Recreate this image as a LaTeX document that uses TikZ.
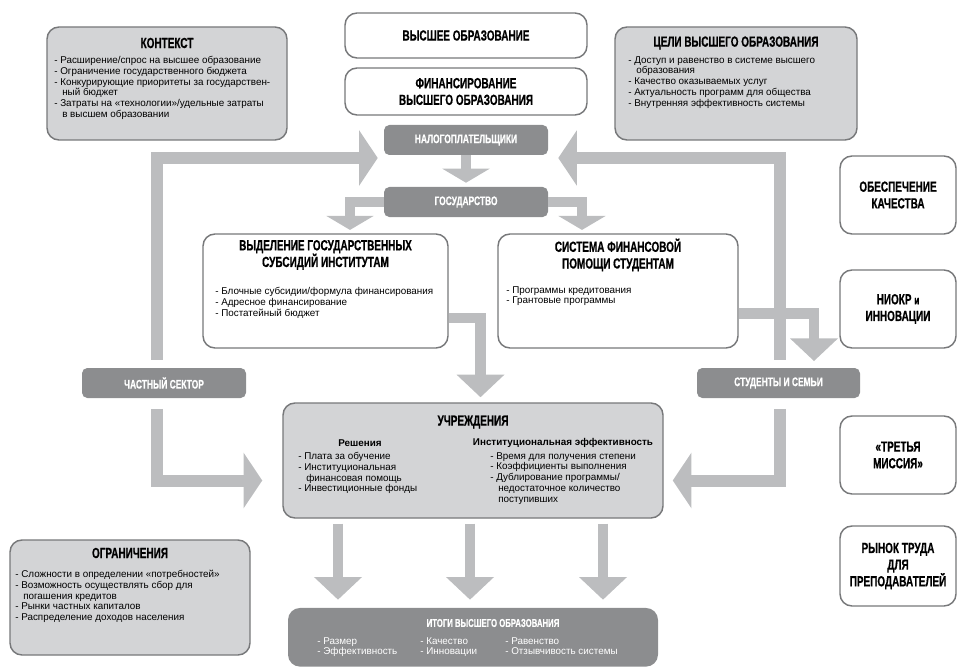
\documentclass[tikz,border=0pt]{standalone}
\usepackage{fontspec}
\setmainfont{Liberation Sans}
\newfontfamily\headfont[FakeStretch=0.68,FakeBold=0.6]{Liberation Sans}
\usetikzlibrary{arrows.meta}
\usetikzlibrary{calc}
\usepackage{color}

\definecolor{boxfill}{HTML}{D3D4D6}
\definecolor{boxline}{HTML}{77787A}
\definecolor{labelfill}{HTML}{8C8D8F}
\definecolor{arrowfill}{HTML}{BCBDBF}

\newcommand{\headsize}{\headfont\bfseries\fontsize{11}{12.5}\selectfont}
\newcommand{\labelsize}{\headfont\bfseries\fontsize{9.3}{11}\selectfont}
\newcommand{\bodysize}{\fontsize{7.4}{8.1}\selectfont}

\tikzset{
  greybox/.style={draw=boxline, fill=boxfill, line width=1.1pt, rounded corners=9pt},
  whitebox/.style={draw=boxline, fill=white, line width=1.1pt, rounded corners=9pt, font=\headsize, align=center},
  labelbox/.style={fill=labelfill, rounded corners=4pt, text=white, font=\labelsize, inner sep=0pt},
  headtext/.style={font=\headsize, align=center, inner sep=0pt},
  bodytext/.style={font=\bodysize, align=left, anchor=north west, inner sep=0pt},
  flow/.style={draw=arrowfill, line join=miter, line cap=butt},
  bigflow/.style={flow, line width=9pt, -{Triangle[width=41pt,length=14pt]}},
  branchflow/.style={flow, line width=8pt, -{Triangle[width=35pt,length=10.5pt]}},
  feedflow/.style={flow, line width=8pt, -{Triangle[width=35pt,length=17pt]}},
}

\begin{document}
\begin{tikzpicture}[x=0.75pt,y=0.75pt,yscale=-1,xscale=1]
\useasboundingbox (0,0) rectangle (958,667);

%Shape: top boxes
\node[greybox, minimum width=180pt, minimum height=84.75pt] (kontekst) at (167,83.5) {};
\node[whitebox, minimum width=181.5pt, minimum height=33.75pt] (vysshee) at (466,35.5) {ВЫСШЕЕ ОБРАЗОВАНИЕ};
\node[whitebox, minimum width=181.5pt, minimum height=35.25pt] (finans) at (466,91.5) {ФИНАНСИРОВАНИЕ\\ВЫСШЕГО ОБРАЗОВАНИЯ};
\node[greybox, minimum width=181.5pt, minimum height=84.75pt] (celi) at (736,83.5) {};

%Shape: labels
\node[labelbox, minimum width=123pt, minimum height=22.5pt] (nalog) at (466,140) {НАЛОГОПЛАТЕЛЬЩИКИ};
\node[labelbox, minimum width=123pt, minimum height=22.5pt] (gosud) at (466,202) {ГОСУДАРСТВО};
\node[labelbox, minimum width=123pt, minimum height=22.5pt] (chast) at (164,383) {ЧАСТНЫЙ СЕКТОР};
\node[labelbox, minimum width=122.25pt, minimum height=22.5pt] (stud) at (778.5,383) {СТУДЕНТЫ И СЕМЬИ};

%Shape: middle boxes
\node[whitebox, minimum width=183.75pt, minimum height=85.5pt] (vydel) at (325.5,291) {};
\node[whitebox, minimum width=180pt, minimum height=85.5pt] (sistema) at (618,291) {};
\node[greybox, minimum width=285pt, minimum height=86.25pt] (uchr) at (473,460.5) {};

%Shape: bottom boxes
\node[greybox, minimum width=180pt, minimum height=86.25pt] (ogran) at (130,597.5) {};
\node[labelbox, rounded corners=9pt, minimum width=277.5pt, minimum height=44pt] (itogi) at (473,637.3) {};

%Shape: right column
\node[whitebox, minimum width=87pt, minimum height=58.5pt] (obesp) at (898,195) {ОБЕСПЕЧЕНИЕ\\КАЧЕСТВА};
\node[whitebox, minimum width=87pt, minimum height=58.5pt] (niokr) at (898,309) {НИОКР {\fontsize{9}{11}\selectfont и}\\ИННОВАЦИИ};
\node[whitebox, minimum width=87pt, minimum height=58.5pt] (tretya) at (898,455) {«ТРЕТЬЯ\\МИССИЯ»};
\node[whitebox, minimum width=87pt, minimum height=60pt] (rynok) at (898,566) {РЫНОК ТРУДА\\ДЛЯ\\ПРЕПОДАВАТЕЛЕЙ};

% Text Node
\node[headtext] (kontekst title) at (167,43) {КОНТЕКСТ};
\node[bodytext] (kontekst list) at (54,56) {- Расширение/спрос на высшее образование\\- Ограничение государственного бюджета\\- Конкурирующие приоритеты за государствен-\\\hspace*{6pt}ный бюджет\\- Затраты на «технологии»/удельные затраты\\\hspace*{6pt}в высшем образовании};
% Text Node
\node[headtext] (celi title) at (736,43) {ЦЕЛИ ВЫСШЕГО ОБРАЗОВАНИЯ};
\node[bodytext] (celi list) at (628,56) {- Доступ и равенство в системе высшего\\\hspace*{6pt}образования\\- Качество оказываемых услуг\\- Актуальность программ для общества\\- Внутренняя эффективность системы};
% Text Node
\node[headtext] (vydel title) at (325.5,255) {ВЫДЕЛЕНИЕ ГОСУДАРСТВЕННЫХ\\СУБСИДИЙ ИНСТИТУТАМ};
\node[bodytext] (vydel list) at (215,287) {- Блочные субсидии/формула финансирования\\- Адресное финансирование\\- Постатейный бюджет};
% Text Node
\node[headtext] (sistema title) at (618,255) {СИСТЕМА ФИНАНСОВОЙ\\ПОМОЩИ СТУДЕНТАМ};
\node[bodytext] (sistema list) at (506,286) {- Программы кредитования\\- Грантовые программы};
% Text Node
\node[headtext] (uchr title) at (473,422) {УЧРЕЖДЕНИЯ};
\node[font=\bodysize\bfseries, inner sep=0pt] (resh title) at (360,443) {Решения};
\node[font=\bodysize\bfseries, inner sep=0pt] (eff title) at (563,443) {Институциональная эффективность};
\node[bodytext] (resh list) at (298,452) {- Плата за обучение\\- Институциональная\\\hspace*{6pt}финансовая помощь\\- Инвестиционные фонды};
\node[bodytext] (eff list) at (490,452) {- Время для получения степени\\- Коэффициенты выполнения\\- Дублирование программы/\\\hspace*{6pt}недостаточное количество\\\hspace*{6pt}поступивших};
% Text Node
\node[headtext] (ogran title) at (130,553) {ОГРАНИЧЕНИЯ};
\node[bodytext] (ogran list) at (15,570) {- Сложности в определении «потребностей»\\- Возможность осуществлять сбор для\\\hspace*{6pt}погашения кредитов\\- Рынки частных капиталов\\- Распределение доходов населения};
% Text Node
\node[font=\labelsize, text=white, inner sep=0pt, scale=0.92] (itogi title) at (493,623) {ИТОГИ ВЫСШЕГО ОБРАЗОВАНИЯ};
\node[bodytext, text=white] (itogi a) at (317,637) {- Размер\\- Эффективность};
\node[bodytext, text=white] (itogi b) at (420,637) {- Качество\\- Инновации};
\node[bodytext, text=white] (itogi c) at (505,637) {- Равенство\\- Отзывчивость системы};

%Arrows
\draw[branchflow, shorten >=3pt] (nalog) -- (gosud);
\draw[branchflow, shorten >=2.5pt] (gosud.west) -| ($(vydel.north)+(24.5,0)$);
\draw[branchflow, shorten >=2.5pt] (gosud.east) -| ($(sistema.north)+(-36,0)$);
\draw[bigflow, shorten <=6pt, shorten >=4.5pt] ($(chast.north)+(-7,0)$) |- ($(nalog.west)+(0,18)$);
\draw[bigflow, shorten <=6pt, shorten >=7.5pt] ($(stud.north)+(1.5,0)$) |- ($(nalog.east)+(0,18)$);
\draw[bigflow, shorten <=8pt, shorten >=15pt] ($(chast.south)+(-7,0)$) |- ($(uchr.west)+(0,20)$);
\draw[bigflow, shorten <=8pt, shorten >=6.75pt] ($(stud.south)+(1.5,0)$) |- ($(uchr.east)+(0,20)$);
\draw[feedflow, shorten >=3.75pt] ($(vydel.east)+(0,27)$) -| ($(uchr.north)+(7.5,0)$);
\draw[feedflow, shorten >=5pt] ($(sistema.east)+(0,22.5)$) -| ($(stud.north)+(35.5,0)$);
\foreach \dx in {-135,-3,130}
  \draw[feedflow, shorten <=3.75pt, shorten >=6pt] ($(uchr.south)+(\dx,0)$) -- ($(itogi.north)+(\dx,0)$);

\end{tikzpicture}
\end{document}
